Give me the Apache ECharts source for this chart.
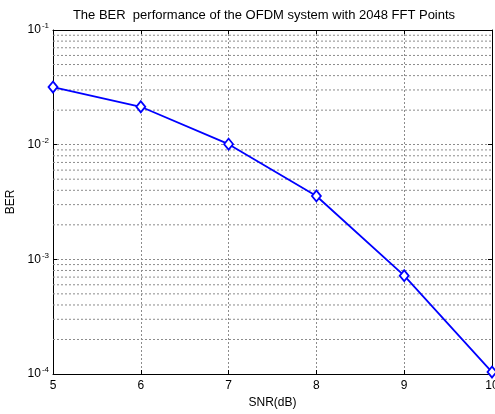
<!DOCTYPE html>
<html>
<head>
<meta charset="utf-8">
<script src="https://cdn.jsdelivr.net/npm/echarts@6/dist/echarts.min.js"></script>
<style>
html,body{margin:0;padding:0;background:#fff;}
#c{width:495px;height:414px;}
</style>
</head>
<body>
<div id="c"></div>
<script>
var snr = [5, 6, 7, 8, 9, 10];
var ber = [0.0318, 0.0214, 0.0101, 0.00357, 0.00072, 0.000104];
var minorGrid = [2e-4,3e-4,4e-4,5e-4,6e-4,7e-4,8e-4,9e-4,
                 2e-3,3e-3,4e-3,5e-3,6e-3,7e-3,8e-3,9e-3,
                 2e-2,3e-2,4e-2,5e-2,6e-2,7e-2,8e-2,9e-2];
var titleText = 'The BER  performance of the OFDM system with 2048 FFT Points';

var font = 'Liberation Sans, Arial, sans-serif';
var gridColor = '#8c8c8c';
var gridDash = [2,2];
var gridLine = {show:true, lineStyle:{color:gridColor, type:gridDash, width:1}};

var minorSeries = minorGrid.map(function(v){
  return {
    type:'line', data:[[snr[0], v],[snr[snr.length-1], v]],
    symbol:'none', silent:true, z:1,
    lineStyle:{color:gridColor, type:gridDash, width:1}
  };
});

var chart = echarts.init(document.getElementById('c'), null, {renderer:'canvas'});
chart.setOption({
  backgroundColor:'#fff',
  animation:false,
  title:{text:titleText, left:259, textAlign:'center', top:4,
    textStyle:{fontFamily:font, fontSize:13, fontWeight:'normal', color:'#000'}},
  grid:{left:53, top:30, right:3, bottom:40, containLabel:false, outerBoundsMode:'none'},
  xAxis:[{
    type:'value', min:5, max:10, interval:1,
    name:'SNR(dB)', nameLocation:'middle', nameGap:23,
    nameTextStyle:{fontFamily:font, fontSize:12, color:'#000'},
    axisLine:{show:true, lineStyle:{color:'#000', width:1}},
    axisTick:{show:true, inside:true, length:4, lineStyle:{color:'#000'}},
    axisLabel:{fontFamily:font, fontSize:12, color:'#000', margin:6},
    splitLine:gridLine
  },{
    type:'value', min:5, max:10, interval:1, position:'top',
    axisLine:{show:true, onZero:false, lineStyle:{color:'#000', width:1}},
    axisTick:{show:true, inside:true, length:4, lineStyle:{color:'#000'}},
    axisLabel:{show:false}, splitLine:{show:false}
  }],
  yAxis:[{
    type:'log', logBase:10, min:1e-4, max:1e-1,
    name:'BER', nameLocation:'middle', nameGap:35,
    nameTextStyle:{fontFamily:font, fontSize:12, color:'#000'},
    axisLine:{show:true, lineStyle:{color:'#000', width:1}},
    axisTick:{show:true, inside:true, length:4, lineStyle:{color:'#000'}},
    axisLabel:{fontFamily:font, color:'#000', margin:4,
      formatter:function(v){ return '{b|10}{s|' + Math.round(Math.log10(v)) + '}'; },
      rich:{b:{fontFamily:font, fontSize:12, color:'#000'},
            s:{fontFamily:font, fontSize:8, color:'#000', verticalAlign:'top', padding:[0,0,8,1]}}},
    splitLine:gridLine
  },{
    type:'log', logBase:10, min:1e-4, max:1e-1, position:'right',
    axisLine:{show:true, lineStyle:{color:'#000', width:1}},
    axisTick:{show:true, inside:true, length:4, lineStyle:{color:'#000'}},
    axisLabel:{show:false}, splitLine:{show:false}
  }],
  series:minorSeries.concat([{
    type:'line',
    data:snr.map(function(x,i){return [x, ber[i]];}),
    symbol:'diamond', symbolSize:[9,11], showSymbol:true,
    lineStyle:{color:'#0000ff', width:1.8},
    itemStyle:{color:'#fff', borderColor:'#0000ff', borderWidth:1.8},
    clip:false,
    z:5
  }])
});
</script>
</body>
</html>
